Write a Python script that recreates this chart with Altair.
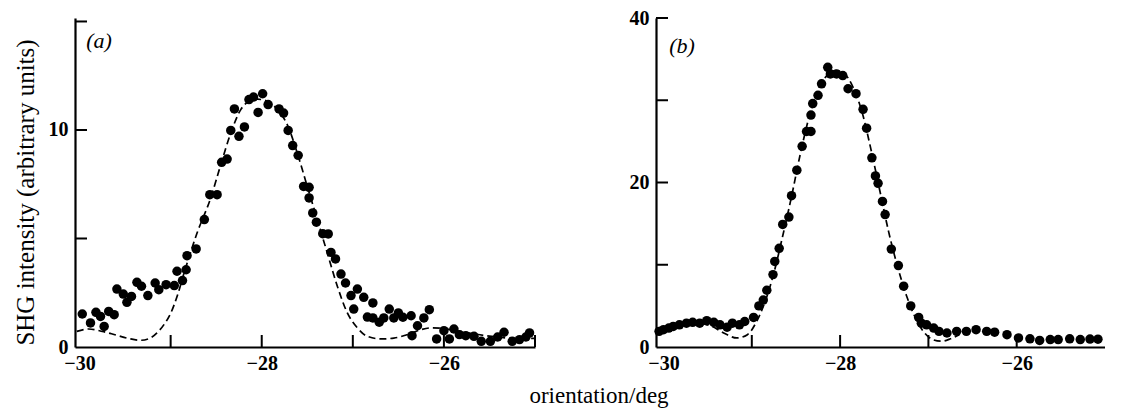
import altair as alt
import pandas as pd

SERIF = "Liberation Serif"

# ---------------- panel (a) data ----------------
a_x = [-29.97, -29.88, -29.82, -29.77, -29.73, -29.68, -29.62, -29.59, -29.52, -29.48,
       -29.43, -29.37, -29.32, -29.25, -29.17, -29.13, -29.05, -28.96, -28.93, -28.87,
       -28.83, -28.82, -28.72, -28.63, -28.57, -28.49, -28.44, -28.38, -28.34, -28.30,
       -28.25, -28.19, -28.14, -28.09, -28.04, -27.99, -27.93, -27.81, -27.76, -27.71,
       -27.66, -27.60, -27.54, -27.48, -27.48, -27.44, -27.40, -27.33, -27.27, -27.24,
       -27.19, -27.13, -27.08, -27.02, -26.99, -26.95, -26.88, -26.84, -26.78, -26.78,
       -26.71, -26.66, -26.60, -26.55, -26.50, -26.45, -26.36, -26.35, -26.29, -26.22,
       -26.16, -26.08, -26.00, -25.94, -25.89, -25.83, -25.76, -25.67, -25.59, -25.49,
       -25.41, -25.34, -25.25, -25.17, -25.10, -25.06]
a_y = [1.52, 1.11, 1.60, 1.41, 0.95, 1.64, 1.49, 2.67, 2.44, 2.06,
       2.33, 2.98, 2.80, 2.37, 2.95, 2.64, 2.87, 2.83, 3.49, 3.06,
       3.56, 4.21, 4.52, 5.87, 7.02, 7.02, 8.51, 8.66, 9.98, 10.97,
       9.71, 10.14, 11.40, 11.52, 10.81, 11.67, 11.17, 10.97, 10.78, 9.98,
       9.28, 8.83, 7.40, 7.36, 6.87, 6.18, 5.75, 5.22, 5.21, 4.36,
       4.06, 3.36, 2.95, 2.37, 1.75, 2.67, 2.29, 1.38, 2.03, 1.34,
       1.14, 1.34, 1.75, 1.34, 1.57, 1.37, 1.44, 0.52, 0.98, 1.34,
       1.72, 0.37, 0.75, 0.37, 0.83, 0.57, 0.52, 0.49, 0.26, 0.26,
       0.46, 0.68, 0.26, 0.34, 0.46, 0.65]

ca_x = [-30.03, -29.9, -29.75, -29.6, -29.45, -29.33, -29.22, -29.15, -29.07, -29.0,
        -28.92, -28.85, -28.71, -28.56, -28.45, -28.34, -28.23, -28.15, -28.08, -27.97,
        -27.86, -27.79, -27.72, -27.61, -27.5, -27.39, -27.28, -27.17, -27.06, -26.95,
        -26.84, -26.69, -26.55, -26.4, -26.25, -26.14, -26.0, -25.8, -25.5, -25.2, -25.0]
ca_y = [0.72, 0.83, 0.72, 0.55, 0.38, 0.31, 0.42, 0.65, 1.05, 1.55,
        2.45, 3.45, 5.25, 6.87, 8.4, 9.86, 10.94, 11.3, 11.43, 11.37,
        11.09, 10.75, 10.25, 8.94, 7.4, 5.87, 4.33, 2.8, 1.57, 0.88,
        0.49, 0.37, 0.41, 0.57, 0.8, 0.88, 0.85, 0.7, 0.5, 0.4, 0.4]

# ---------------- panel (b) data ----------------
b_x = [-30.05, -30.0, -29.94, -29.89, -29.82, -29.74, -29.67, -29.59, -29.51, -29.43,
       -29.36, -29.28, -29.22, -29.14, -29.08, -28.98, -28.92, -28.87, -28.83, -28.76,
       -28.74, -28.69, -28.65, -28.58, -28.55, -28.49, -28.43, -28.38, -28.33, -28.33,
       -28.31, -28.25, -28.21, -28.14, -28.11, -28.04, -27.97, -27.91, -27.82, -27.74,
       -27.70, -27.64, -27.60, -27.57, -27.52, -27.49, -27.42, -27.34, -27.28, -27.20,
       -27.11, -27.08, -27.02, -26.94, -26.88, -26.79, -26.68, -26.57, -26.46, -26.34,
       -26.25, -26.11, -25.98, -25.85, -25.74, -25.62, -25.53, -25.40, -25.28, -25.17,
       -25.08]
b_y = [1.9, 2.1, 2.3, 2.5, 2.7, 2.9, 3.0, 2.9, 3.2, 3.0,
       2.7, 2.4, 2.9, 2.7, 3.1, 3.6, 5.0, 5.7, 6.9, 8.8,
       10.4, 12.0, 14.9, 15.8, 18.4, 21.5, 24.4, 26.2, 26.2, 28.2,
       29.6, 30.6, 32.0, 34.0, 33.2, 33.2, 33.0, 31.4, 30.8, 28.9,
       26.6, 23.0, 20.8, 19.9, 17.7, 16.1, 11.9, 9.9, 7.4, 5.0,
       3.6, 2.9, 2.7, 2.3, 1.9, 1.7, 1.9, 1.9, 2.1, 1.9,
       1.8, 1.5, 1.1, 1.0, 0.8, 0.9, 0.9, 1.0, 0.9, 0.97,
       0.95]

cb_x = [-30.05, -29.9, -29.75, -29.6, -29.45, -29.3, -29.17, -29.05, -28.95, -28.85,
        -28.75, -28.65, -28.55, -28.45, -28.35, -28.25, -28.15, -28.05, -27.95, -27.85,
        -27.75, -27.65, -27.55, -27.45, -27.35, -27.25, -27.15, -27.05, -26.95, -26.85,
        -26.75, -26.65]
cb_y = [1.8, 2.3, 2.8, 2.9, 2.5, 1.6, 1.1, 1.5, 3.0, 5.5,
        9.0, 13.5, 18.3, 23.5, 28.0, 31.2, 33.0, 33.6, 33.2, 31.5,
        28.5, 24.0, 19.0, 14.0, 9.8, 6.3, 3.6, 1.8, 0.9, 0.7,
        1.0, 1.5]

# ---------------- axes / ticks ----------------
x_label_vals = [-30, -28, -26]
a_xticks = [-29, -28, -27, -26, -25]
b_xticks = [-29, -28, -27, -26]
a_yticks = [5, 10, 15]
a_ylabels = [0, 10]
b_yticks = [10, 20, 30, 40]
b_ylabels = [0, 20, 40]

W_A, W_B, H = 460, 449, 329


def panel(px, py, cx, cy, xdom, ydom, w, h, xticks, yticks, ylabels, tag,
          tag_x, tag_y, ytitle=None):
    xs = alt.Scale(domain=xdom, nice=False, zero=False)
    ys = alt.Scale(domain=ydom, nice=False, zero=False)
    xaxis = alt.Axis(values=x_label_vals, format="d", ticks=False, grid=False,
                     domainColor="black", domainWidth=2.2, labelFont=SERIF,
                     labelFontSize=20, labelFontWeight="bold", labelColor="black",
                     labelPadding=6, title=None, labelFlush=False)
    ykw = dict(values=ylabels, format="d", ticks=False, grid=False,
               domainColor="black", domainWidth=2.2, labelFont=SERIF,
               labelFontSize=20, labelFontWeight="bold", labelColor="black",
               labelPadding=7, labelFlush=False)
    if ytitle:
        ykw.update(title=ytitle, titleFont=SERIF, titleFontSize=25,
                   titleFontWeight="normal", titleColor="black",
                   titleX=-50, titleY=174, titleAngle=270,
                   titleBaseline="middle", titleAlign="center")
    else:
        ykw.update(title=None, minExtent=28, maxExtent=28)
    yaxis = alt.Axis(**ykw)

    pts = pd.DataFrame({"x": px, "y": py})
    cur = pd.DataFrame({"x": cx, "y": cy})
    X = lambda: alt.X("x:Q", scale=xs, axis=xaxis)
    Y = lambda: alt.Y("y:Q", scale=ys, axis=yaxis)

    line = alt.Chart(cur).mark_line(color="black", strokeDash=[7, 4],
                                    strokeWidth=1.7, interpolate="monotone",
                                    clip=True).encode(x=X(), y=Y())
    dots = alt.Chart(pts).mark_circle(size=90, color="black", opacity=1).encode(
        x=X(), y=Y())
    xt = alt.Chart(pd.DataFrame({"x": xticks})).mark_rule(
        color="black", strokeWidth=2).encode(x=X(), y=alt.value(h),
                                              y2=alt.value(h - 12))
    yt = alt.Chart(pd.DataFrame({"y": yticks})).mark_rule(
        color="black", strokeWidth=2).encode(y=Y(), x=alt.value(0),
                                              x2=alt.value(12))
    tg = alt.Chart(pd.DataFrame({"s": [tag]})).mark_text(
        font=SERIF, fontSize=22, fontStyle="italic", color="black",
        align="center", baseline="middle").encode(
        text="s:N", x=alt.value(tag_x), y=alt.value(tag_y))
    return alt.layer(line, dots, xt, yt, tg).properties(width=w, height=h)


pa = panel(a_x, a_y, ca_x, ca_y, [-30.05, -25.0], [0, 15.16], W_A, H,
           a_xticks, a_yticks, a_ylabels, "(a)", 24, 23,
           ytitle="SHG intensity (arbitrary units)")
pb = panel(b_x, b_y, cb_x, cb_y, [-30.085, -25.0], [0, 40], W_B, H,
           b_xticks, b_yticks, b_ylabels, "(b)", 26, 28)

chart = alt.hconcat(pa, pb, spacing=92).properties(
    title=alt.TitleParams("orientation/deg", orient="bottom", anchor="middle",
                          font=SERIF, fontSize=23, fontWeight="normal",
                          color="black", dx=40, offset=12),
    padding={"left": 4, "top": 0, "right": 0, "bottom": 0},
).configure_view(stroke=None)

chart.save("out.html", embed_options={"renderer": "svg", "actions": False})
